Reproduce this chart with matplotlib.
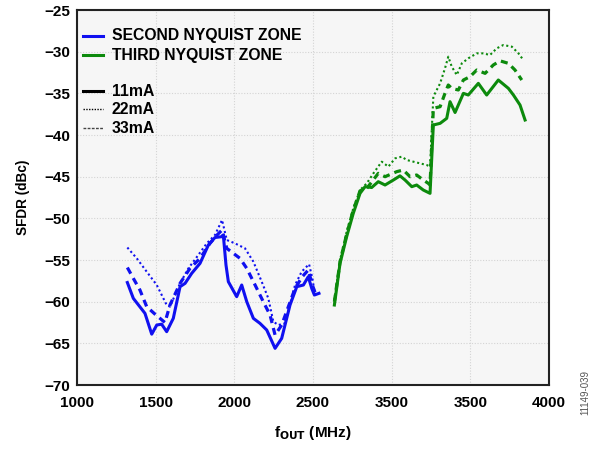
import matplotlib.pyplot as plt
import numpy as np

plt.rcParams['font.family'] = ['Liberation Sans', 'DejaVu Sans']
plt.rcParams['font.weight'] = 'bold'

# second nyquist zone (blue)
f2_11 = [1320, 1358, 1432, 1475, 1507, 1538, 1570, 1612, 1655, 1687, 1729, 1782, 1835, 1877, 1920, 1930,
         1947, 1962, 2015, 2047, 2079, 2121, 2163, 2206, 2259, 2301, 2354, 2397, 2439, 2470, 2492, 2509, 2538]
s2_11 = [-57.7, -59.6, -61.4, -63.9, -62.8, -62.7, -63.6, -62.0, -58.2, -57.8, -56.6, -55.4, -53.2, -52.3, -52.2, -52.0,
         -55.6, -57.6, -59.4, -58.0, -60.0, -62.0, -62.6, -63.4, -65.6, -64.4, -60.4, -58.2, -58.0, -57.0, -58.4, -59.2, -59.0]

f2_22 = [1320, 1380, 1443, 1507, 1570, 1591, 1655, 1708, 1771, 1825, 1877, 1922, 1952, 2004, 2068, 2121, 2174,
         2216, 2248, 2280, 2322, 2386, 2428, 2475, 2496, 2513]
s2_22 = [-53.5, -54.8, -56.4, -58.0, -60.4, -60.6, -57.8, -56.0, -54.4, -53.0, -52.0, -50.2, -52.6, -53.0, -53.6, -55.2, -57.6,
         -59.6, -62.4, -62.8, -62.6, -58.0, -56.4, -55.5, -57.2, -59.2]

f2_33 = [1320, 1358, 1400, 1443, 1496, 1559, 1591, 1655, 1718, 1782, 1845, 1890, 1922, 1952, 1994, 2036, 2079,
         2132, 2184, 2227, 2259, 2301, 2386, 2432, 2470, 2496, 2517]
s2_33 = [-55.9, -57.2, -58.6, -60.6, -61.5, -62.5, -60.4, -57.8, -56.0, -54.8, -53.0, -52.0, -51.4, -53.6, -54.2, -54.8, -56.0,
         -58.0, -60.0, -61.6, -64.0, -62.8, -58.4, -57.0, -56.2, -58.0, -59.1]

# third nyquist zone (green)
f3_11 = [2636, 2672, 2714, 2756, 2799, 2831, 2873, 2915, 2958, 3011, 3053, 3085, 3128, 3159, 3201, 3244, 3265,
         3308, 3350, 3371, 3403, 3456, 3487, 3551, 3604, 3678, 3742, 3774, 3816, 3848]
s3_11 = [-60.4, -55.4, -52.2, -49.4, -47.0, -46.2, -46.3, -45.6, -46.0, -45.4, -44.9, -45.4, -46.2, -46.0, -46.6, -47.0, -38.8,
         -38.6, -38.0, -36.0, -37.3, -35.0, -35.2, -33.8, -35.2, -33.4, -34.4, -35.2, -36.4, -38.2]

f3_22 = [2636, 2672, 2714, 2756, 2799, 2842, 2884, 2937, 2979, 3022, 3064, 3096, 3138, 3180, 3223, 3244, 3265,
         3308, 3339, 3360, 3382, 3414, 3446, 3487, 3541, 3583, 3625, 3668, 3710, 3764, 3806, 3837]
s3_22 = [-59.8, -55.0, -51.6, -48.8, -46.6, -45.8, -44.6, -43.2, -43.8, -42.8, -42.6, -43.0, -43.2, -43.4, -43.6, -43.8, -35.4,
         -33.8, -32.0, -30.6, -31.8, -32.8, -31.4, -30.8, -30.2, -30.2, -30.4, -29.6, -29.2, -29.4, -30.2, -31.0]

f3_33 = [2636, 2672, 2714, 2756, 2799, 2842, 2915, 2958, 3032, 3074, 3117, 3159, 3201, 3233, 3244, 3265,
         3308, 3339, 3360, 3382, 3424, 3456, 3498, 3541, 3594, 3646, 3689, 3742, 3784, 3827]
s3_33 = [-60.0, -55.2, -51.9, -49.0, -46.7, -46.4, -44.6, -45.0, -44.4, -44.2, -45.0, -44.8, -45.4, -45.8, -46.0, -36.8,
         -36.6, -35.0, -34.0, -34.4, -34.6, -33.4, -33.0, -32.2, -32.6, -31.6, -31.1, -31.4, -32.2, -33.4]

xticks = [1000, 1500, 2000, 2500, 3000, 3500, 4000]
xlabels = ['1000', '1500', '2000', '2500', '3500', '3500', '4000']
yticks = np.arange(-70, -24, 5)

blue = '#1010f0'
green = '#0c8a0c'
solid = dict(linestyle='-', linewidth=2.2)
dotted = dict(linestyle=(0, (1, 1.3)), linewidth=1.5)
dashed = dict(linestyle=(0, (2.2, 1.6)), linewidth=2.3)

fig = plt.figure(figsize=[5.96, 4.49], dpi=100)
ax = fig.add_axes([0.1292, 0.1425, 0.7919, 0.8352])
ax.set_facecolor('#f6f6f6')

ax.plot(f2_22, s2_22, color=blue, **dotted)
ax.plot(f2_33, s2_33, color=blue, **dashed)
ax.plot(f2_11, s2_11, color=blue, **solid)
ax.plot(f3_22, s3_22, color=green, **dotted)
ax.plot(f3_33, s3_33, color=green, **dashed)
ax.plot(f3_11, s3_11, color=green, **solid)

ax.set_xlim(1000, 4000)
ax.set_ylim(-70, -25)
ax.set_xticks(xticks)
ax.set_xticklabels(xlabels)
ax.set_yticks(yticks)
ax.set_yticklabels(['\u2212%d' % abs(v) for v in yticks])
ax.tick_params(length=0, labelsize=11, pad=5)
ax.tick_params(axis='x', pad=8)
ax.grid(True, color='#d4d4d4', linestyle=(0, (1, 1.5)), linewidth=0.8)
ax.set_axisbelow(True)
for s in ax.spines.values():
    s.set_linewidth(1.5)
    s.set_color('#222222')

ax.set_ylabel('SFDR (dBc)', fontsize=9.8, fontweight='bold', labelpad=10)
ax.set_xlabel('f$_{\\mathbf{OUT}}$ (MHz)', fontsize=11, fontweight='bold', labelpad=10)

# legenda
lx = [0.0127, 0.055]
tx = 0.074
legenda = [(0.931, blue, solid, 'SECOND NYQUIST ZONE'),
           (0.880, green, solid, 'THIRD NYQUIST ZONE'),
           (0.784, 'black', solid, '11mA'),
           (0.736, 'black', dict(linestyle=(0, (1, 1)), linewidth=1.0), '22mA'),
           (0.685, '#444444', dict(linestyle=(0, (2, 1)), linewidth=1.0), '33mA')]
for y, c, st, txt in legenda:
    ax.plot(lx, [y, y], color=c, transform=ax.transAxes, **st)
    ax.text(tx, y, txt, transform=ax.transAxes, va='center', ha='left', fontsize=11.3, fontweight='bold')

fig.text(0.982, 0.075, '11149-039', rotation=90, fontsize=7, fontweight='normal', color='#555555',
         ha='center', va='bottom')

plt.savefig('out.png', dpi=100)
